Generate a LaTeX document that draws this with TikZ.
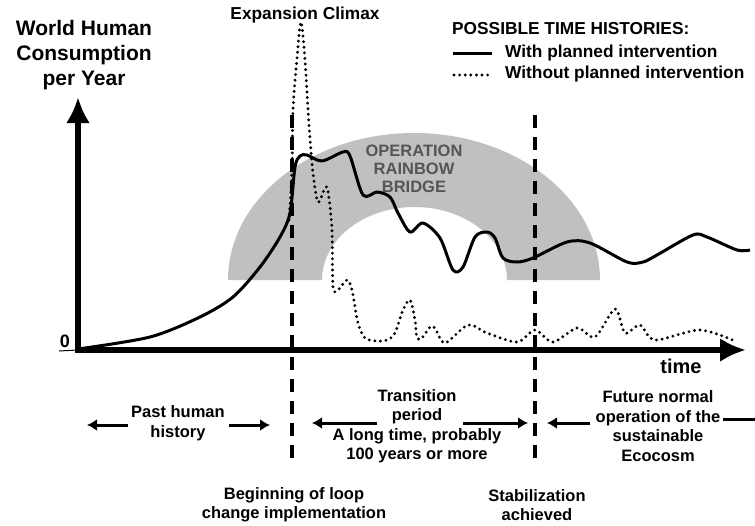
\documentclass[tikz,border=0pt]{standalone}
\usepackage{fontspec}
\setmainfont{Liberation Sans}
\usetikzlibrary{arrows.meta}

\definecolor{bridgegray}{RGB}{192,192,192}
\definecolor{bridgetext}{RGB}{85,85,85}

\tikzset{
  lbl/.style={font=\bfseries\fontsize{16.5}{19.5}\selectfont, align=center, inner sep=0pt},
  toplbl/.style={lbl, font=\bfseries\fontsize{17.3}{20}\selectfont},
  axis/.style={line width=6pt, -{Latex[length=26pt,width=24pt]}},
  span/.style={line width=3pt, -{Latex[length=10pt,width=12pt]}},
  phase/.style={line width=4.5pt, dash pattern=on 13pt off 9pt},
  withplan/.style={line width=3pt, line join=round},
  noplan/.style={line width=3.2pt, line cap=round, dash pattern=on 0pt off 5.6pt}
}

\begin{document}
\begin{tikzpicture}[x=1pt,y=-1pt]
        \useasboundingbox (0,0) rectangle (755,525);
        % Arc gris
        \fill[bridgegray] (228,280) arc[start angle=180,end angle=360,x radius=186,y radius=147]
              -- (507,280) arc[start angle=360,end angle=180,x radius=92.5,y radius=73] -- cycle;
        \path(414,169) node[lbl, text=bridgetext, font=\bfseries\fontsize{16.5}{18}\selectfont] (bridge) {OPERATION\\RAINBOW\\BRIDGE};
        % Axes
        \coordinate (O) at (78,350);
        \coordinate (ytop) at (78,97);
        \coordinate (xend) at (746,350);
        \draw[line width=1pt] (59,351) -- (O);
        \draw[axis] ([yshift=3pt]O) -- (ytop);
        \draw[axis] ([xshift=-3pt]O) -- (xend);
        \path(65,341) node[lbl, font=\bfseries\fontsize{18}{20}\selectfont] (zero) {0};
        \path(681,366) node[lbl, font=\bfseries\fontsize{20}{22}\selectfont] (time) {time};
        \path(84,55) node[lbl, font=\bfseries\fontsize{21}{25}\selectfont] (ylabel) {World Human\\Consumption\\per Year};
        % Lignes de phase
        \draw[phase] (292,115) -- (292,466);
        \draw[phase] (535,115) -- (535,466);
        % Courbes
        \draw[noplan] plot[smooth, tension=0.5] coordinates {(289,220) (292,170) (293,110) (297,58) (301,22)
              (305,60) (309,125) (313,173) (318,202) (325,188) (328,191) (332,230) (333,287) (338,290)
              (347,280) (352,290) (358,323) (365,338) (377,341) (387,340) (395,333) (403,310) (410,300)
              (415,320) (417,338) (422,338) (430,327) (435,328) (445,343) (468,325) (487,333) (517,342)
              (535,330) (553,342) (577,328) (595,337) (615,309) (625,333) (640,325) (655,340) (700,330)
              (737,342)};
        \draw[withplan] plot[smooth, tension=0.5] coordinates {(78,349) (150,337) (200,317) (233,297)
              (260,267) (280,237) (290,213) (295,167) (300,156) (307,155) (322,161) (343,152) (350,156)
              (363,195) (377,192) (390,197) (398,213) (410,232) (423,223) (440,238) (453,270) (463,267)
              (475,237) (487,232) (495,238) (503,258) (517,262) (533,258) (567,242) (590,243) (627,262)
              (643,262) (657,255) (693,235) (707,237) (737,250) (750,250)};
        % Titre et legende
        \path(305,15) node[toplbl] (climax) {Expansion Climax};
        \path(452,29) node[toplbl, anchor=west] (legend) {POSSIBLE TIME HISTORIES:};
        \path(505,53) node[toplbl, anchor=west] (withleg) {With planned intervention};
        \path(505,74) node[toplbl, anchor=west] (withoutleg) {Without planned intervention};
        \draw[withplan] (453,53) -- (492,53);
        \draw[noplan] (454,75) -- (492,75);
        % Periodes
        \path(178,423) node[lbl] (past) {Past human\\history};
        \path(417,426) node[lbl] (trans) {Transition\\period\\A long time, probably\\100 years or more};
        \path(658,426) node[lbl] (future) {Future normal\\operation of the\\sustainable\\Ecocosm};
        \path(294,505) node[lbl] (begin) {Beginning of loop\\change implementation};
        \path(537,505) node[lbl] (stab) {Stabilization\\achieved};
        \coordinate (pastL) at (87,425);
        \coordinate (pastR) at (270,425);
        \coordinate (transL) at (312,423);
        \coordinate (transR) at (528,423);
        \coordinate (futL) at (547,423);
        \coordinate (futR) at (765,419);
        \draw[span] (128,425) -- (pastL);
        \draw[span] (229,425) -- (pastR);
        \draw[span] (377,423) -- (transL);
        \draw[span] (463,423) -- (transR);
        \draw[span] (590,423) -- (futL);
        \draw[span] (723,419) -- (futR);
     \end{tikzpicture}
\end{document}
